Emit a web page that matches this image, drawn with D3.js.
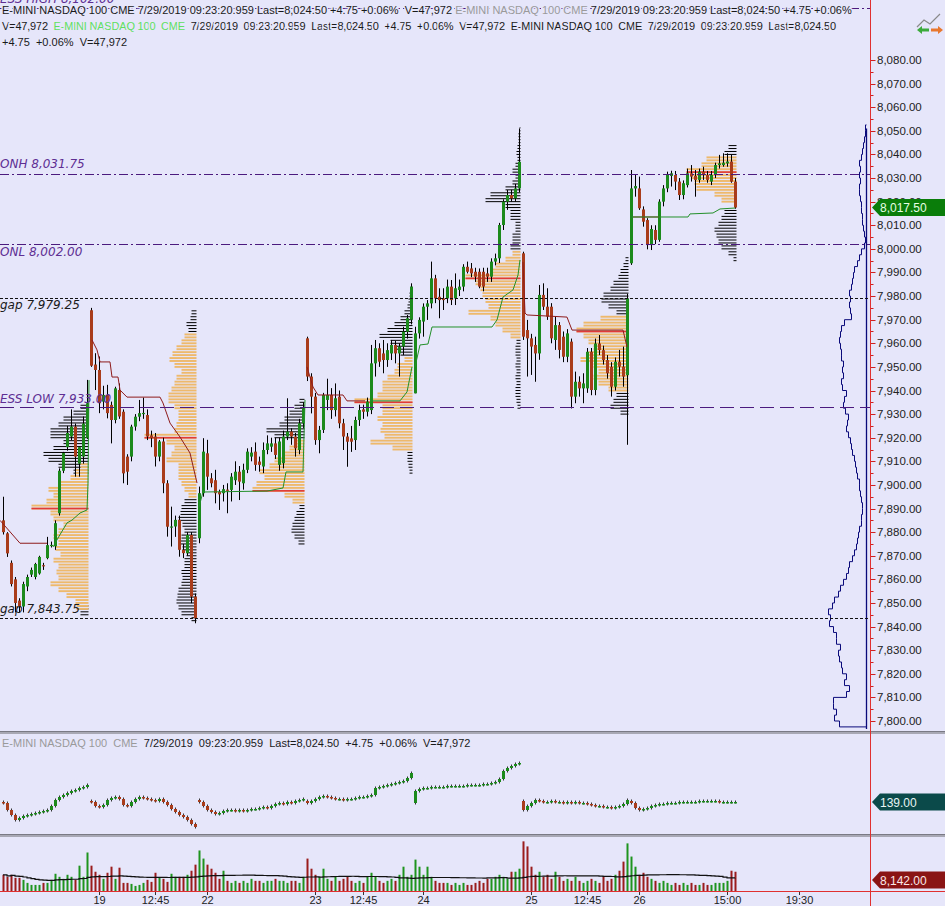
<!DOCTYPE html>
<html><head><meta charset="utf-8">
<script src="https://cdn.jsdelivr.net/npm/d3@7/dist/d3.min.js"></script>
<style>
html,body{margin:0;padding:0;background:#E6E6FA;overflow:hidden}
svg{display:block}
text{font-family:"Liberation Sans",Arial,sans-serif;white-space:pre}
</style></head><body>
<svg id="c" width="945" height="906"></svg>
<script>
// ===== DATA =====
// 15-min RTH candles [open, high, low, close]
const day18 = [
[7885,7895,7879,7880],[7879.5,7880,7869.5,7871],[7867,7868,7857,7858],[7860,7861,7846,7850],
[7851,7852,7846,7848.5],[7848.5,7859,7846,7858],[7857,7862,7855,7861],[7862,7865,7861,7864],
[7861,7867,7860,7866.5],[7862.5,7870,7862,7869.5],[7866,7867,7864,7865.5],[7869,7878,7868.5,7874.5],
[7874.5,7876,7873.5,7874.6],[7874,7885,7872.5,7883.8],[7888,7907,7887,7906],[7906,7914,7905,7913.5],
[7916,7925,7914.5,7922],[7920.5,7932,7919,7924.7],[7924.7,7926,7903.5,7912],[7909,7916,7903.5,7916],
[7912,7929,7909,7926],[7920,7944.5,7919.5,7934.6]];
const day19 = [
[7974,7975,7950,7950.5],[7951,7955.8,7940.2,7948.7],[7948.7,7954.4,7930.4,7934.6],[7935.3,7942,7932,7938.1],
[7938.1,7942.4,7928.2,7930.4],[7933.9,7935.3,7917.6,7927.5],[7927.5,7941.6,7926.1,7940.9],[7940.2,7943,7928,7929],
[7931,7932,7900.7,7904.9],[7912,7913,7900,7905.6],[7912,7925.5,7910,7924.7],[7924.7,7930,7923,7928.9],
[7928.9,7936,7927,7930.4],[7930,7937,7928,7930.5],[7929.6,7932,7919,7920.5],[7921,7923,7916,7919.8],
[7920.5,7922,7907.8,7912],[7912,7919,7910,7918.4],[7918.4,7920,7896.5,7900.7],[7900.7,7902,7878.1,7882.3],
[7882,7890.8,7873.9,7882.4],[7882.4,7887,7878,7885.2],[7885.2,7887,7869.6,7872.5],[7872.5,7875,7869,7871.1],
[7871.1,7880,7870,7878.8],[7878.8,7880,7849.9,7852.7],[7852.7,7854,7841.4,7843.5]];
const day22 = [
[7877.4,7899.3,7875.3,7896.5],[7896.5,7919.8,7895,7914.1],[7913.4,7919.1,7897.9,7903.5],[7902.8,7905,7899,7900.7],
[7902,7906.4,7892.2,7896.5],[7897,7898,7889.4,7896],[7896.5,7900,7893,7898.2],[7898,7900.7,7888,7897.5],
[7897.9,7905,7893,7903.5],[7902,7910,7900,7905.6],[7905.6,7908,7893.6,7901.4],[7900.7,7909,7898,7906.4],
[7906.4,7915.5,7905,7914.1],[7912,7916,7910,7913.7],[7914.1,7918,7906,7908.5],[7909.9,7912,7905.6,7908.5],
[7907.8,7918,7905,7914.8],[7914.8,7921,7913,7917.6],[7916.2,7920,7914,7917.6],[7917.6,7920,7911,7912.7],
[7908.5,7920,7906,7918.4],[7909.2,7923,7907,7920.5],[7920.5,7936.7,7919,7922.6],[7922.6,7924,7917,7920.5],
[7920.5,7922,7912,7915.5],[7914.8,7928,7913,7926.1],[7926.1,7935,7924,7932.5]];
const day23 = [
[7962.1,7962.8,7944,7945.9],[7945.9,7947.3,7930.3,7937.4],[7937.4,7939,7917,7919],[7919,7925,7913.4,7923.3],
[7923.3,7939,7922,7938.1],[7936,7945,7931.7,7938.1],[7938.1,7941,7928,7931.7],[7931.7,7943,7929,7936.7],
[7937.4,7940,7924,7926.1],[7926.1,7928,7914.8,7920.5],[7920.5,7922,7907.7,7918.3],[7919.7,7925,7914,7918.3],
[7919,7928.9,7914.8,7927.5],[7927.5,7934,7925,7931.7],[7932,7934,7928,7931],[7931,7937,7929,7935.3],
[7931.7,7959.3,7930,7951.5],[7951.5,7961.4,7945.9,7957.9],[7957.9,7960,7950,7952.2],[7955.7,7961.4,7947.3,7952.9],
[7952.9,7960,7950,7957.1],[7955.7,7961.4,7952.9,7959.3],[7959.3,7961,7951.5,7955.7],[7955.7,7960,7945.9,7958.6],
[7958.6,7967,7955,7964.9],[7964.9,7972,7962,7970.6],[7970,7985.4,7968,7984]];
const day24 = [
[7938.8,7967,7938.8,7964.2],[7964.2,7971,7962,7969.9],[7969.2,7976.9,7962.8,7975.5],[7975.5,7978.3,7969.9,7976.9],
[7976.9,7994.6,7974.8,7987.5],[7987.5,7989,7977,7979],[7979.7,7983.3,7970.6,7978.3],[7979,7983.3,7974.1,7978.3],
[7979,7987,7977,7984],[7984,7986.8,7976.2,7978.3],[7979,7989.6,7976.2,7983.3],[7982.6,7987,7980,7984],
[7984,7993.5,7982,7992.4],[7992.4,7994.6,7989.6,7990.3],[7991.7,7994,7988,7989.6],[7990.3,7992,7986,7988.2],
[7990.3,7991.7,7983.3,7984],[7990.3,7992,7982,7984],[7989.6,7992,7986,7988.2],[7988.2,7996,7986,7994.6],
[7994.6,7998,7993,7996],[7996,8011,7994,8010.1],[8010.1,8021,8008,8020],[8020,8024.9,8016.5,8022.8],
[8022.8,8025,8020,8021.4],[8021.4,8027.5,8020,8025.6],[8025.6,8051,8024,8036.9]];
const day25 = [
[7998.1,7998.8,7961.4,7962.8],[7965.6,7969.9,7945.9,7962.1],[7962.1,7964,7946.6,7958.6],[7959.3,7962.8,7943.7,7955.7],
[7955.7,7984.7,7953,7980.5],[7980.5,7985.4,7974.1,7975.5],[7975.5,7983.3,7969.9,7971.3],[7975.5,7977,7960,7962.1],
[7961.4,7971.3,7957.2,7967.7],[7967.7,7969,7953.6,7957.2],[7962.8,7965,7952,7954.3],[7954.3,7966,7952,7964.2],
[7960.7,7962,7932.4,7937.4],[7937.4,7948,7934.6,7943.7],[7943.7,7946,7937.4,7940.9],[7940.9,7947.3,7934.6,7943],
[7940.9,7958,7939,7956.4],[7956.4,7958,7938,7940.2],[7940.2,7962,7938,7959.9],[7959.9,7963.5,7955,7957.1],
[7957.1,7959,7951,7952.9],[7952.9,7955,7945,7947.3],[7950,7952,7937.4,7941.6],[7941.6,7954,7940,7952.2],
[7952.2,7957.2,7945.9,7950.1],[7950.1,7958.6,7941.6,7945.9],[7946.5,7981,7917,7979]];
const day26 = [
[7993.9,8033.4,7993.2,8025.6],[8025.6,8031.3,8022.1,8026.6],[8025.6,8030.6,8016.5,8017.2],[8016.7,8018,8009.4,8011.5],
[8012.2,8013,7999.8,8001.6],[8001.6,8010,7999.5,8008.4],[8008,8010,8002,8003.8],[8003.8,8021,8003,8020],
[8020,8027,8018,8025.6],[8025.6,8032.7,8024,8031.3],[8030.9,8033.1,8026.4,8032],[8031.3,8033,8024.9,8028.5],
[8028.5,8030,8020.7,8022.8],[8022.8,8029,8021,8027.8],[8027,8034,8026,8032],[8032,8035.5,8028.5,8030.6],
[8030.9,8033.4,8022.1,8029.2],[8029.2,8034,8028,8032.7],[8032.7,8034.8,8029.2,8031.3],[8031.3,8033,8028,8029.2],
[8028.5,8033,8027,8031.3],[8031.3,8036.5,8030,8035.5],[8035.5,8039.8,8034,8036.2],[8035.5,8040.5,8034.8,8036.5],
[8036.2,8040.5,8034.8,8037],[8037,8039.8,8028,8028.5],[8028.5,8030,8017,8017.5]];

// volume per bar
const vol18 = [12000,10500,12000,9750,9750,8250,6000,4500,4500,4500,6000,6000,8250,12750,10500,9000,12000,10500,8250,18750,10500,28500];
const vol19 = [18750,14250,12000,9000,13500,18000,9000,17250,6000,6000,5250,3750,4500,6000,8250,6750,13500,9750,9000,6750,12750,10500,10500,10500,12000,15000,19500];
const vol22 = [30000,24000,19500,16500,13500,9000,15000,7500,6000,7500,6000,7500,6000,9000,7500,7500,6000,7500,7500,9000,7500,7500,6000,7500,7500,6000,10500];
const vol23 = [24000,16500,12000,10500,16500,9000,7500,10500,7500,9000,10500,7500,6000,7500,6000,10500,13500,10500,7500,6000,7500,9000,7500,12000,18000,10500,12000];
const vol24 = [23250,18000,12000,18000,10500,7500,6000,6000,6000,4500,6000,4500,6000,4500,4500,6000,7500,6000,9000,9000,10500,12000,10500,9000,14250,14250,16500];
const vol25 = [36750,33000,18000,12000,14250,10500,12000,9000,14250,10500,7500,9000,7500,10500,7500,6000,7500,9000,7500,6000,10500,7500,9000,12000,15000,21750,35250];
const vol26 = [25500,18000,12000,13500,10500,9000,7500,6000,7500,6000,4500,6000,4500,6000,4500,6000,4500,4500,6000,4500,4500,6000,6000,6000,7500,15000,14250];

// second pane indicator closes per bar and day opens
const ind18 = [138,131,126,121,123,125,126,127,128,129,130,131,135,141,144,146,148,150,151,153,154,156];
const ind19 = [139,135,134,136,141,143,144,142,136,135,139,142,144,143,142,141,140,142,139,136,132,129,126,124,121,117,114];
const ind22 = [139,135,131,129,127,128,130,131,131,130,131,130,131,132,132,133,134,133,135,137,138,137,139,138,140,141,142];
const ind23 = [138,140,142,144,145,144,143,142,142,141,142,142,143,144,144,145,146,153,154,155,156,157,158,159,160,163,168];
const ind24 = [150,152,153,153,154,154,154,154,155,155,155,155,155,156,156,156,156,157,157,158,159,162,170,173,175,177,178];
const ind25 = [131,135,138,141,140,139,139,140,139,139,138,139,138,139,138,138,137,136,135,135,134,134,133,134,135,137,141];
const ind26 = [138,133,131,132,133,135,136,137,137,138,138,138,139,139,139,139,139,140,140,140,140,140,139,139,139,139,139];
const indDayOpen = [139,140,141,140,138,140,140];

// reference levels
const levelNames  = ['ESS HIGH','ONH','ONL','gap','ESS LOW','gap'];
const levelValues = [8102, 8031.75, 8002.00, 7979.25, 7933.00, 7843.75];

// session volume profiles (RTH orange, overnight black), 2.5-pt bins, end = last bar index of the session
const profOrange = [
 {end:21,  start:7847.5, vals:[12,13,22,30,38,30,32,30,35,28,33,30,35,30,25,35,38,57,42,35,40,28,18,13,8]},
 {end:48,  start:7895,   vals:[8,12,15,18,18,18,30,25,22,30,52,22,20,18,18,22,28,28,25,22,20,15,22,27,24,20,15,12]},
 {end:75,  start:7892.5, vals:[12,20,52,48,40,45,35,30,20,15,10]},
 {end:102, start:7915,   vals:[20,42,28,32,30,35,30,30,58,35,30,30,25,18,15,8]},
 {end:129, start:7962.5, vals:[10,18,25,30,52,32,35,38,40,45,55,30,25,15,8]},
 {end:156, start:7940,   vals:[20,30,35,30,35,48,40,35,40,45,52,45,28]},
 {end:183, start:8020,   vals:[15,22,40,42,45,50,35,30]}
];
const profBlack = [
 {end:21,  start:7845,   vals:[8,10]},
 {end:21,  start:7905,   vals:[15,30,40,45,35,25,38,38,30,25,15,8]},
 {end:48,  start:7965,   vals:[8,10,6,5]},
 {end:48,  start:7842.5, vals:[5,15,18,20,19,18,15,14,15,12,12,10,14,18,15,12,14,18,16,15,12]},
 {end:75,  start:7875,   vals:[6,10,13,12,10,8,5]},
 {end:75,  start:7920,   vals:[30,38,25,20,15,10,5]},
 {end:102, start:7955,   vals:[12,18,22,33,25,18,12,8,5,4,3,2]},
 {end:102, start:7905,   vals:[3,4,5,5]},
 {end:129, start:8000,   vals:[10,8,8,5,5,10,10,15,35,30,15,8,5,8,5,3,4,3,2,2,1]},
 {end:129, start:7932.5, vals:[3,4,5,5,4,5,4,5,4,5,5,4]},
 {end:156, start:7972.5, vals:[12,20,27,25,18,15,10,8,5,3]},
 {end:156, start:7930,   vals:[8,18,15,12]},
 {end:183, start:7995,   vals:[3,8,15,18,20,22,18,15,12]},
 {end:183, start:8040,   vals:[12,8]}
];
// composite profile (right side), 2.5-pt bins from 7797.5
const compStart = 7797.5;
const compVals = [27,32,30,33,33,20,17,22,20,24,25,27,28,26,30,30,33,37,36,38,
 34,32,28,26,23,20,18,17,14,12,10,9,8,7,5,5,4,4,5,6,7,7,9,10,11,12,14,15,16,18,
 20,19,18,21,23,22,20,24,25,23,24,23,25,25,26,27,26,25,22,15,16,17,16,17,15,14,13,12,9,7,
 5,2,1,2,3,4,4,5,5,6,7,7,6,7,6,7,5,4,3,2,1,1];

// developing lines [barIndex, price]
const devRed = [
 [[-0.75,7885],[4.25,7875.3],[11,7875.3]],
 [[22.25,7961.4],[23.5,7957.2],[24.25,7952.1],[26.75,7952.1],[27.25,7945.7],[28.75,7945.7],[29.25,7940.2],[31,7937.2],[39.25,7937.2],[40,7934.7],[41.75,7926.2],[44.25,7920.3],[46.75,7913.5],[48.5,7900.8]],
 [[76,7950],[77.5,7941.5],[78.75,7938.1],[85,7938.1],[86,7935.6],[90.5,7935.6]],
 [[130,7994.4],[130.5,7972.8],[131,7972],[141,7971.1],[142.25,7965.6],[155,7965.6],[156,7958.4]],
 [[157.5,8013.5],[164,8013.5]]
];
const devGreen = [
 [[12.5,7873.7],[13.75,7877.5],[16,7883.9],[17.25,7885.1],[19.25,7888.1],[21,7889.4],[21.25,7900.8],[21.5,7944.4]],
 [[49,7890.7],[50,7897],[66,7897.4],[70,7898.7],[70.75,7905.5],[75,7905.5],[75.5,7936]],
 [[91.75,7935.6],[99.25,7935.6],[101,7939.4],[102.25,7950]],
 [[103,7950],[104.25,7959.3],[106.25,7959.7],[107.25,7966.9],[122.25,7966.9],[123.5,7969.9],[125,7979.6],[127.5,7982.6],[128.75,7988.9],[129.25,7995.3]],
 [[157.25,8013.5],[171.25,8013.5],[171.75,8014.8],[177.5,8015.2],[179.25,8016.9],[183,8017.3]]
];

// time axis
const tickIdx    = [24, 38, 51, 78, 90, 105, 132, 146, 159, 181, 199];
const tickLabels = ['19','12:45','22','23','12:45','24','25','12:45','26','15:00','19:30'];
const priceTicks = d3.range(7800, 8081, 10);
const lastPrice = 8017.50, indLast = 139.00, volTag = 8142.00;

// ===== DRAW =====
const BG = '#E6E6FA', GREEN = '#1C8A1C', RED = '#A93C1B';
const svg = d3.select('#c');
svg.append('rect').attr('width', 945).attr('height', 906).attr('fill', BG);

const bars = [...day18, ...day19, ...day22, ...day23, ...day24, ...day25, ...day26];
const vols = [...vol18, ...vol19, ...vol22, ...vol23, ...vol24, ...vol25, ...vol26];
const indDays = [ind18, ind19, ind22, ind23, ind24, ind25, ind26];

const x = d3.scaleLinear().domain([0, 1]).range([3, 7]);
const y = d3.scaleLinear().domain([7800, 8080]).range([721, 60]);
const w = d3.scaleLinear().domain([0, 10]).range([0, 10]);
const fmt = d3.format(',.2f');

svg.append('defs').append('clipPath').attr('id', 'mainclip')
  .append('rect').attr('x', 0).attr('y', 0).attr('width', 870).attr('height', 729);
const main = svg.append('g').attr('clip-path', 'url(#mainclip)');

// profiles
function drawProfile(prof, color, h) {
  const edge = x(prof.end) + 1.5;
  prof.vals.forEach((v, k) => {
    const p = prof.start + k * 2.5;
    [0, 1.25].forEach(off => {
      main.append('rect').attr('x', edge - w(v)).attr('y', y(p + off) - h / 2)
        .attr('width', w(v)).attr('height', h).attr('fill', color);
    });
  });
}
profBlack.forEach(p => drawProfile(p, '#000', 1));
profOrange.forEach(p => drawProfile(p, '#EEB96C', 1.9));
profOrange.forEach(p => {
  const k = d3.maxIndex(p.vals);
  const edge = x(p.end) + 1.5;
  main.append('rect').attr('x', edge - w(p.vals[k])).attr('y', y(p.start + k * 2.5) - 0.8)
    .attr('width', w(p.vals[k])).attr('height', 1.6).attr('fill', '#E03A3A');
});

// reference levels
const levelStyle = [
  {stroke: '#4B1A7E', dash: '9,3,2,3', tc: '#5E2E93', dy: -5},
  {stroke: '#4B1A7E', dash: '9,3,2,3', tc: '#5E2E93', dy: -5.5},
  {stroke: '#4B1A7E', dash: '9,3,2,3', tc: '#5E2E93', dy: 11.5},
  {stroke: '#111',    dash: '3,2',     tc: '#1a1a1a', dy: 11.5},
  {stroke: '#4B1A7E', dash: '14,6',    tc: '#5E2E93', dy: -4.5},
  {stroke: '#111',    dash: '3,2',     tc: '#1a1a1a', dy: -4.5}
];
levelValues.forEach((v, i) => {
  const s = levelStyle[i];
  svg.append('line').attr('x1', 0).attr('x2', 870).attr('y1', Math.round(y(v)) + 0.5).attr('y2', Math.round(y(v)) + 0.5)
    .attr('stroke', s.stroke).attr('stroke-width', 1.2).attr('stroke-dasharray', s.dash);
  svg.append('text').attr('x', 0).attr('y', y(v) + s.dy)
    .attr('fill', s.tc).attr('font-size', 12).attr('font-style', 'italic')
    .style('font-family', '"DejaVu Sans",Verdana,sans-serif')
    .text(levelNames[i] + ' ' + fmt(v));
});

// composite profile
const baseX = 866.5;
const pts = [[baseX, y(compStart)]];
compVals.forEach((v, k) => {
  const p = compStart + k * 2.5;
  pts.push([baseX - w(v), y(p)], [baseX - w(v), y(p + 2.5)]);
});
pts.push([baseX, y(compStart + compVals.length * 2.5)]);
main.append('path').attr('d', d3.line()(pts)).attr('fill', 'none').attr('stroke', '#0A0A7A').attr('stroke-width', 1);
main.append('line').attr('x1', baseX).attr('x2', baseX).attr('y1', y(8051)).attr('y2', 729)
  .attr('stroke', '#0A0A7A').attr('stroke-width', 1.3);

// candles
const cg = main.append('g');
bars.forEach((b, i) => {
  const [o, h, l, c] = b;
  const xc = Math.round(x(i));
  cg.append('line').attr('x1', xc + 0.5).attr('x2', xc + 0.5).attr('y1', y(h)).attr('y2', y(l))
    .attr('stroke', '#000').attr('stroke-width', 1);
  const top = y(Math.max(o, c)), bot = y(Math.min(o, c));
  cg.append('rect').attr('x', xc - 1).attr('y', top).attr('width', 3).attr('height', Math.max(1.2, bot - top))
    .attr('fill', c >= o ? GREEN : RED);
});

// developing lines
const ln = d3.line().x(d => x(d[0])).y(d => y(d[1]));
devRed.forEach(s => main.append('path').attr('d', ln(s)).attr('fill', 'none').attr('stroke', '#8E1B1B').attr('stroke-width', 1));
devGreen.forEach(s => main.append('path').attr('d', ln(s)).attr('fill', 'none').attr('stroke', '#23902A').attr('stroke-width', 1));

// header text (stroke masks the level line behind glyphs)
function header(yy, parts, x0, len) {
  const t = svg.append('text').attr('x', x0).attr('y', yy).attr('font-size', 11)
    .attr('stroke', BG).attr('stroke-width', 3).attr('paint-order', 'stroke');
  if (len) t.attr('textLength', len).attr('lengthAdjust', 'spacing');
  parts.forEach(p => t.append('tspan').attr('fill', p[1]).text(p[0]));
}
const DK = '#1A1A1A', GR = '#9A9A9A', LG = '#5FE05F';
header(13.5, [['E-MINI NASDAQ 100 CME 7/29/2019 09:23:20.959 Last=8,024.50 +4.75 +0.06%  V=47,972 ', DK],
  ['E-MINI NASDAQ 100 CME ', GR], ['7/29/2019 09:23:20.959 Last=8,024.50 +4.75 +0.06%', DK]], 2);
header(29.5, [['V=47,972  ', DK], ['E-MINI NASDAQ 100  CME  ', LG],
  ['7/29/2019  09:23:20.959  Last=8,024.50  +4.75  +0.06%  V=47,972  E-MINI NASDAQ 100  CME  7/29/2019  09:23:20.959  Last=8,024.50', DK]], 2, 834);
header(46, [['+4.75  +0.06%  V=47,972', DK]], 2);

// price axis
const axisX = 870.5;
const pa = svg.append('g');
d3.range(7800, 8081, 5).forEach(v => {
  const major = v % 10 === 0;
  pa.append('line').attr('x1', axisX).attr('x2', axisX + (major ? 5 : 3))
    .attr('y1', Math.round(y(v)) + 0.5).attr('y2', Math.round(y(v)) + 0.5).attr('stroke', '#D02020');
});
priceTicks.forEach(v => {
  pa.append('text').attr('x', 877).attr('y', y(v) + 4).attr('font-size', 11.5).attr('fill', '#222').text(fmt(v));
});
function tag(yy, color, txt, tc) {
  svg.append('path').attr('d', `M872,${yy} L880,${yy - 8.5} L945,${yy - 8.5} L945,${yy + 8.5} L880,${yy + 8.5} Z`).attr('fill', color);
  svg.append('text').attr('x', 880).attr('y', yy + 4.5).attr('font-size', 12).attr('fill', tc).text(txt);
}
tag(y(lastPrice), '#0A7D0A', fmt(lastPrice), '#E6FFE6');

// top-right icon
const ic = svg.append('g');
ic.append('path').attr('d', 'M917,27 L924,20 L930,24 L940,14').attr('fill', 'none').attr('stroke', '#8a8a8a').attr('stroke-width', 1.2);
ic.append('path').attr('d', 'M917,30 L922,26 L922,28.5 L929,28.5 L929,31.5 L922,31.5 L922,34 Z').attr('fill', '#3BAA3B');
ic.append('path').attr('d', 'M943,30 L938,26 L938,28.5 L931,28.5 L931,31.5 L938,31.5 L938,34 Z').attr('fill', '#E8772E');

// dividers
[731, 834].forEach(yy => {
  svg.append('rect').attr('x', 0).attr('y', yy).attr('width', 945).attr('height', 3).attr('fill', '#A8A8B4');
  svg.append('line').attr('x1', 0).attr('x2', 945).attr('y1', yy + 0.5).attr('y2', yy + 0.5).attr('stroke', '#7A7A84');
});

// second pane
const yi = d3.scaleLinear().domain([100, 200]).range([841, 741]);
const p2 = svg.append('g');
let gi = 0;
indDays.forEach((arr, d) => {
  arr.forEach((c, k) => {
    const o = k === 0 ? indDayOpen[d] : arr[k - 1];
    const xc = Math.round(x(gi));
    const top = yi(Math.max(o, c)), bot = yi(Math.min(o, c));
    p2.append('line').attr('x1', xc + 0.5).attr('x2', xc + 0.5).attr('y1', top - 1.5).attr('y2', bot + 1.5).attr('stroke', '#333');
    p2.append('rect').attr('x', xc - 1).attr('y', top).attr('width', 3).attr('height', Math.max(1.5, bot - top))
      .attr('fill', c >= o ? GREEN : RED);
    gi++;
  });
});
svg.append('text').attr('x', 2).attr('y', 747).attr('font-size', 11)
  .call(t => { t.append('tspan').attr('fill', GR).text('E-MINI NASDAQ 100  CME  ');
               t.append('tspan').attr('fill', DK).text('7/29/2019  09:23:20.959  Last=8,024.50  +4.75  +0.06%  V=47,972'); });
tag(yi(indLast), '#0B4A4A', fmt(indLast), '#E8F4F4');

// volume pane
const yv = d3.scaleLinear().domain([0, volTag]).range([891, 880]);
const vg = svg.append('g');
vols.forEach((v, i) => {
  const b = bars[i];
  vg.append('rect').attr('x', Math.round(x(i)) - 0.5).attr('y', yv(v)).attr('width', 2).attr('height', 891 - yv(v))
    .attr('fill', b[3] >= b[0] ? '#1E941E' : '#9A1C1C');
});
const ma = vols.map((v, i) => d3.mean(vols.slice(Math.max(0, i - 49), i + 1)));
vg.append('path').attr('d', d3.line().x((d, i) => x(i)).y(d => yv(d)).curve(d3.curveStepAfter)(ma))
  .attr('fill', 'none').attr('stroke', '#111').attr('stroke-width', 1.2);
tag(yv(volTag), '#8A1414', fmt(volTag), '#FBE8E8');

// axes lines
svg.append('line').attr('x1', axisX).attr('x2', axisX).attr('y1', 0).attr('y2', 906).attr('stroke', '#E03030').attr('stroke-width', 1);
const xa = svg.append('g').attr('transform', 'translate(0,891)')
  .call(d3.axisBottom(x).tickValues(tickIdx).tickFormat((d, i) => tickLabels[i]).tickSize(4).tickSizeOuter(0));
xa.select('.domain').remove();
xa.selectAll('text').attr('font-size', 11).attr('fill', '#222').attr('y', 5).attr('dy', '0.71em')
  .style('font-family', '"Liberation Sans",Arial,sans-serif');
xa.selectAll('line').attr('stroke', '#333');
svg.append('line').attr('x1', 0).attr('x2', 945).attr('y1', 891.5).attr('y2', 891.5).attr('stroke', '#E03030').attr('stroke-width', 1.2);
</script></body></html>
